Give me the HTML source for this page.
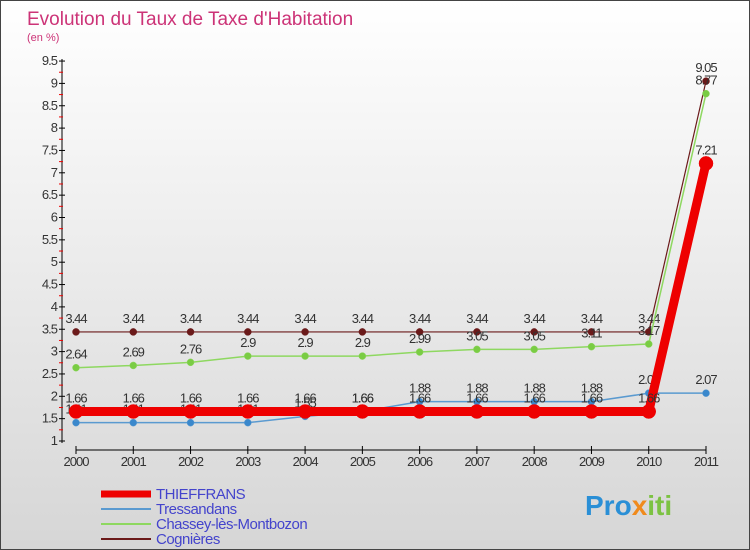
<!DOCTYPE html>
<html><head><meta charset="utf-8"><style>
body{margin:0}
#c{width:750px;height:550px;position:relative;overflow:hidden;font-family:"Liberation Sans",sans-serif;background:linear-gradient(#ffffff,#d6d6d6);box-sizing:border-box;border:1px solid #444}
</style></head><body>
<div id="c">
<svg id="s" width="750" height="550" style="position:absolute;left:0;top:0">
<text x="26" y="24" font-size="19" fill="#cc3377">Evolution du Taux de Taxe d'Habitation</text>
<text x="26" y="40" font-size="11" fill="#cc3377">(en %)</text>
<text x="584" y="514" font-size="28" font-weight="bold" fill="#2a8fd6">Pro<tspan fill="#f08a1c">x</tspan><tspan fill="#7cc242">iti</tspan></text>
</svg>
</div>
<script>
const years=["2000","2001","2002","2003","2004","2005","2006","2007","2008","2009","2010","2011"];
const thieffrans=[1.66,1.66,1.66,1.66,1.66,1.66,1.66,1.66,1.66,1.66,1.66,7.21];
const tressandans=[1.41,1.41,1.41,1.41,1.55,1.66,1.88,1.88,1.88,1.88,2.07,2.07];
const chassey=[2.64,2.69,2.76,2.9,2.9,2.9,2.99,3.05,3.05,3.11,3.17,8.77];
const cognieres=[3.44,3.44,3.44,3.44,3.44,3.44,3.44,3.44,3.44,3.44,3.44,9.05];
const yTicks=[1,1.5,2,2.5,3,3.5,4,4.5,5,5.5,6,6.5,7,7.5,8,8.5,9,9.5];
const seriesNames=["THIEFFRANS","Tressandans","Chassey-lès-Montbozon","Cognières"];
const NS="http://www.w3.org/2000/svg";
const svg=document.getElementById('s');
const X=i=>75+i*(630/11);
const Y=v=>440-(v-1)*44.7;
function el(t,a,p){const e=document.createElementNS(NS,t);for(const k in a)e.setAttribute(k,a[k]);(p||svg).appendChild(e);return e;}
let ax=el('line',{x1:61,y1:58,x2:61,y2:442,stroke:'#000'});


yTicks.forEach((t,i)=>{
 el('line',{x1:58,y1:Y(t),x2:64,y2:Y(t),stroke:'#000'});
 if(i<yTicks.length-1){el('line',{x1:58,y1:Y(t+0.25),x2:62,y2:Y(t+0.25),stroke:'#e00'});}
 const tx=el('text',{x:56,y:Y(t)+4,'font-size':13,fill:'#333','text-anchor':'end','letter-spacing':'-1'});
 tx.textContent=t;
 
 
});
let xa=el('line',{x1:75,y1:449,x2:705,y2:449,stroke:'#000'});


years.forEach((y,i)=>{
 el('line',{x1:X(i),y1:445,x2:X(i),y2:453,stroke:'#000'});
 const tx=el('text',{x:X(i),y:465,'font-size':13,fill:'#333','text-anchor':'middle','letter-spacing':'-1'});
 tx.textContent=y;
 
 
});
function series(data,color,lw,r,name,dot){
 const g=el('g',{});
 
 
 el('polyline',{points:data.map((v,i)=>X(i)+','+Y(v)).join(' '),fill:'none',stroke:color,'stroke-width':lw},g);
 data.forEach((v,i)=>{
  const c=el('circle',{cx:X(i),cy:Y(v),r:r,fill:dot,stroke:color,'stroke-width':0.5},g);
  
  
  const t=el('text',{x:X(i),y:Y(v)-9,'font-size':13,fill:'#333','text-anchor':'middle','letter-spacing':'-1'},g);
  t.textContent=v;
 });
}
series(cognieres,'#6b1a1a',1.2,3.5,'series-cognieres','#6b1a1a');
series(chassey,'#8ed860',1.5,3.5,'series-chassey','#7acc44');
series(tressandans,'#5a9ad0',1.5,3.5,'series-tressandans','#3a88cc');
series(thieffrans,'#ee0000',9,7,'series-thieffrans','#ee0000');
const colors=['#ee0000','#5a9ad0','#8ed860','#6b1a1a'];const widths=[7,2,2,2];
seriesNames.forEach((n,i)=>{
 const y=493+i*15;
 const g=el('g',{});
 
 
 el('line',{x1:100,y1:y,x2:150,y2:y,stroke:colors[i],'stroke-width':widths[i]},g);
 const t=el('text',{x:155,y:y+5,'font-size':15,fill:'#4444cc','letter-spacing':'-0.5'},g);
 t.textContent=n;
});
</script>
</body></html>
